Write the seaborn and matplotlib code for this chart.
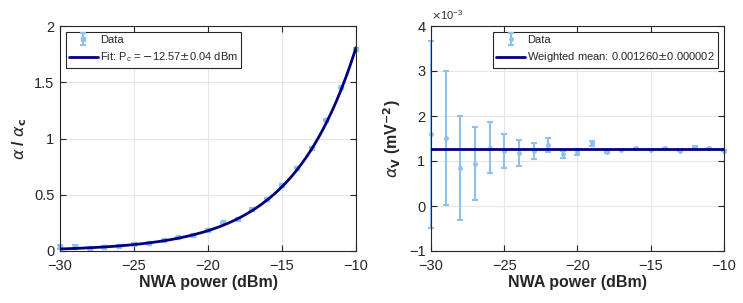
import numpy as np
import matplotlib
matplotlib.use("Agg")
import matplotlib.pyplot as plt
import seaborn as sns
import pandas as pd

# NWA power (dBm)
power = [-30, -29, -28, -27, -26, -25, -24, -23, -22, -21, -20,
         -19, -18, -17, -16, -15, -14, -13, -12, -11, -10]

# left panel: alpha / alpha_c
ratio = [0.035, 0.040, 0.027, 0.036, 0.047, 0.059, 0.071, 0.095, 0.121, 0.142, 0.187,
         0.255, 0.287, 0.373, 0.462, 0.587, 0.741, 0.919, 1.164, 1.455, 1.796]
ratio_err = [0.018, 0.016, 0.012, 0.012, 0.010, 0.008, 0.007, 0.006, 0.006, 0.006, 0.006,
             0.007, 0.006, 0.006, 0.006, 0.006, 0.006, 0.006, 0.006, 0.006, 0.006]
pc = -12.57  # fitted critical power

# right panel: alpha_V in units of 1e-3 mV^-2
alpha_v = [1.59, 1.51, 0.85, 0.94, 1.30, 1.22, 1.17, 1.23, 1.36, 1.15, 1.20,
           1.39, 1.20, 1.25, 1.28, 1.25, 1.29, 1.23, 1.32, 1.28, 1.23]
alpha_v_err = [2.08, 1.49, 1.16, 0.81, 0.56, 0.38, 0.29, 0.18, 0.15, 0.08, 0.07,
               0.05, 0.03, 0.012, 0.012, 0.010, 0.010, 0.010, 0.012, 0.010, 0.010]
wmean = 1.260

sns.set_style("ticks")
plt.rcParams['font.family'] = ['Liberation Sans', 'DejaVu Sans']
plt.rcParams['mathtext.fontset'] = 'dejavusans'

light = '#8ec1ee'
navy = '#000080'

fig = plt.figure(figsize=(7.43, 3.03), dpi=100)
ax1 = fig.add_axes([60 / 743, 1 - 251 / 303, 296 / 743, 225 / 303])
ax2 = fig.add_axes([431 / 743, 1 - 251 / 303, 293 / 743, 225 / 303])

df = pd.DataFrame({'power': power, 'ratio': ratio, 'ratio_err': ratio_err,
                   'alpha_v': alpha_v, 'alpha_v_err': alpha_v_err})

# ---- left
ax1.errorbar(df['power'], df['ratio'], yerr=df['ratio_err'], fmt='s', ms=3,
             color=light, ecolor=light, elinewidth=1.5, capsize=2.5, capthick=1.5,
             label='Data', zorder=2, clip_on=False)
pfit = np.linspace(-30, -10, 200)
fit = pd.DataFrame({'p': pfit, 'y': 10 ** ((pfit - pc) / 10)})
sns.lineplot(data=fit, x='p', y='y', ax=ax1, color=navy, lw=2,
             label=r'Fit: P$_\mathregular{c}$ = $-$12.57$\pm$0.04 dBm', zorder=3)
ax1.set_xlim(-30, -10)
ax1.set_ylim(0, 2)
ax1.set_xticks([-30, -25, -20, -15, -10])
ax1.set_yticks([0, 0.5, 1, 1.5, 2])
ax1.set_yticklabels(['0', '0.5', '1', '1.5', '2'])
ax1.set_ylabel(r'$\alpha$ / $\alpha_\mathbf{c}$', fontsize=11.5, fontweight='bold', labelpad=4)

# ---- right
ax2.errorbar(df['power'], df['alpha_v'], yerr=df['alpha_v_err'], fmt='o', ms=2.5,
             color=light, ecolor=light, elinewidth=1.5, capsize=2.5, capthick=1.5,
             label='Data', zorder=2, clip_on=False)
mean_df = pd.DataFrame({'p': [-30, -10], 'y': [wmean, wmean]})
sns.lineplot(data=mean_df, x='p', y='y', ax=ax2, color=navy, lw=2,
             label='Weighted mean: 0.001260$\\pm$0.000002', zorder=3)
ax2.set_xlim(-30, -10)
ax2.set_ylim(-1, 4)
ax2.set_xticks([-30, -25, -20, -15, -10])
ax2.set_yticks([-1, 0, 1, 2, 3, 4])
ax2.set_ylabel(r'$\alpha_\mathbf{V}$ (mV$^{\mathbf{-2}}$)', fontsize=11.5, fontweight='bold', labelpad=4)
ax2.text(0.0, 1.02, r'$\times$10$^{\mathregular{-3}}$', transform=ax2.transAxes,
         fontsize=8, color='#333333', ha='left', va='bottom')

for ax in (ax1, ax2):
    ax.set_xticklabels(['\u221230', '\u221225', '\u221220', '\u221215', '\u221210'])
    if ax is ax2:
        ax.set_yticklabels(['\u22121', '0', '1', '2', '3', '4'])
    ax.set_xlabel('NWA power (dBm)', fontsize=11.5, fontweight='bold', labelpad=1)
    ax.grid(True, color='#e6e6e6', lw=0.8)
    ax.set_axisbelow(True)
    ax.tick_params(direction='in', length=4, width=0.8, top=True, right=True,
                   labelsize=10.5, colors='#262626')
    ax.tick_params(axis='x', pad=6)
    ax.tick_params(axis='y', pad=4)
    for s in ax.spines.values():
        s.set_color('#262626')
        s.set_linewidth(0.8)
    handles, labels = ax.get_legend_handles_labels()
    order = [labels.index('Data')] + [i for i, l in enumerate(labels) if l != 'Data']
    leg = ax.legend([handles[i] for i in order], [labels[i] for i in order],
                    loc='upper left' if ax is ax1 else 'upper right', fontsize=8,
                    frameon=True, fancybox=False, edgecolor='#262626', framealpha=1,
                    borderpad=0.3, handlelength=2.6, handletextpad=0.2, labelspacing=0.5,
                    borderaxespad=0.5)
    leg.get_frame().set_linewidth(0.8)

fig.savefig('out.png', dpi=100)
